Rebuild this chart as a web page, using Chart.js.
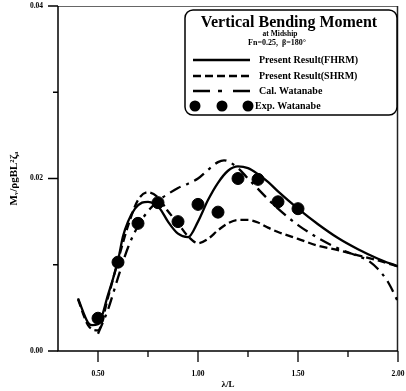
<!DOCTYPE html>
<html><head><meta charset="utf-8">
<script src="https://cdn.jsdelivr.net/npm/chart.js@4.4.0/dist/chart.umd.min.js"></script>
<style>html,body{margin:0;padding:0;background:#fff}canvas{display:block}</style>
</head><body>
<canvas id="c" width="406" height="391"></canvas>
<script>
// ---- data ----
const fhrmX = [0.40,0.45,0.47,0.50,0.55,0.60,0.625,0.65,0.685,0.72,0.75,0.78,0.81,0.85,0.90,0.95,1.00,1.05,1.10,1.15,1.20,1.25,1.30,1.35,1.40,1.50,1.60,1.70,1.80,1.90,2.00];
const fhrmY = [0.0061,0.0033,0.0030,0.0031,0.0065,0.0105,0.0133,0.0150,0.0165,0.0172,0.0173,0.0171,0.0165,0.0150,0.0136,0.0132,0.0150,0.0175,0.0195,0.0209,0.0214,0.0212,0.0205,0.0196,0.0185,0.0165,0.0147,0.0131,0.0118,0.0107,0.0098];

const shrmX = [0.40,0.45,0.50,0.55,0.60,0.65,0.70,0.75,0.80,0.85,0.90,0.95,1.00,1.05,1.10,1.15,1.20,1.25,1.30,1.35,1.40,1.50,1.60,1.70,1.80,1.90,2.00];
const shrmY = [0.0060,0.0030,0.0024,0.0062,0.0105,0.0145,0.0175,0.0184,0.0178,0.0162,0.0148,0.0133,0.0125,0.0130,0.0140,0.0148,0.0152,0.0152,0.0149,0.0143,0.0138,0.0130,0.0122,0.0117,0.0111,0.0105,0.0098];

const calX = [0.50,0.55,0.60,0.65,0.70,0.75,0.80,0.85,0.90,0.95,1.00,1.05,1.10,1.13,1.20,1.25,1.30,1.35,1.40,1.45,1.50,1.60,1.70,1.80,1.85,1.90,1.95,2.00];
const calY = [0.0020,0.0048,0.0085,0.0120,0.0145,0.0162,0.0174,0.0182,0.0189,0.0194,0.0200,0.0210,0.0219,0.0221,0.0212,0.0200,0.0188,0.0176,0.0165,0.0155,0.0146,0.0131,0.0119,0.0110,0.0105,0.0095,0.0080,0.0057];

const expX = [0.50,0.60,0.70,0.80,0.90,1.00,1.10,1.20,1.30,1.40,1.50];
const expY = [0.0038,0.0103,0.0148,0.0172,0.0150,0.0170,0.0161,0.0200,0.0199,0.0173,0.0165];

const xMajorTicks = [0.50,1.00,1.50,2.00];
const xMinorTicks = [0.75,1.25,1.75];
const yMajorTicks = [0.00,0.02,0.04];
const yMinorTicks = [0.01,0.03];

const legendTitle = 'Vertical Bending Moment';
const legendSub1 = 'at Midship';
const legendSub2 = 'Fn=0.25,  β=180°';
const seriesNames = ['Present Result(FHRM)','Present Result(SHRM)','Cal. Watanabe','Exp. Watanabe'];
const xTitle = 'λ/L';
const yTitle = 'Mᵥ/ρgBL²ζₐ';

// ---- helpers ----
const SERIF = '"Liberation Serif","DejaVu Serif",serif';
const pts = (xs, ys) => xs.map((x, i) => ({x: x, y: ys[i]}));
const DASH = [8,4];
const DASHDOT = [12,6,3,6];

const decor = {
  id: 'decor',
  beforeDatasetsDraw(chart) {
    const ctx = chart.ctx, a = chart.chartArea;
    const xs = chart.scales.x, ys = chart.scales.y;
    ctx.save();
    // frame
    ctx.strokeStyle = '#666'; ctx.lineWidth = 1;
    ctx.beginPath(); ctx.moveTo(a.left, a.top + 0.5); ctx.lineTo(a.right, a.top + 0.5); ctx.stroke();
    ctx.strokeStyle = '#222'; ctx.lineWidth = 1.5;
    ctx.beginPath(); ctx.moveTo(a.right - 0.5, a.top); ctx.lineTo(a.right - 0.5, a.bottom); ctx.stroke();
    ctx.strokeStyle = '#000'; ctx.lineWidth = 1.5;
    ctx.beginPath(); ctx.moveTo(a.left, a.top); ctx.lineTo(a.left, a.bottom); ctx.lineTo(a.right, a.bottom); ctx.stroke();
    // ticks
    ctx.lineWidth = 1.3;
    ctx.beginPath();
    xMajorTicks.forEach(v => { const p = xs.getPixelForValue(v); ctx.moveTo(p, a.bottom); ctx.lineTo(p, a.bottom + 11); });
    xMinorTicks.forEach(v => { const p = xs.getPixelForValue(v); ctx.moveTo(p, a.bottom); ctx.lineTo(p, a.bottom + 6); });
    yMajorTicks.forEach(v => { const p = ys.getPixelForValue(v); ctx.moveTo(a.left, p); ctx.lineTo(a.left - 10, p); });
    yMinorTicks.forEach(v => { const p = ys.getPixelForValue(v); ctx.moveTo(a.left, p); ctx.lineTo(a.left - 5, p); });
    ctx.stroke();
    ctx.restore();
  },
  afterDraw(chart) {
    const ctx = chart.ctx, a = chart.chartArea;
    ctx.save();
    ctx.fillStyle = '#000';
    // axis titles
    ctx.font = 'bold 9px ' + SERIF;
    ctx.textAlign = 'center'; ctx.textBaseline = 'middle';
    ctx.fillText(xTitle, (a.left + a.right) / 2, 385);
    ctx.save();
    ctx.translate(14, (a.top + a.bottom) / 2);
    ctx.rotate(-Math.PI / 2);
    ctx.font = 'bold 11px ' + SERIF;
    ctx.fillText(yTitle, 0, 0);
    ctx.restore();

    // legend box
    const L = 185, T = 10, R = 397, B = 115;
    ctx.beginPath();
    ctx.roundRect(L, T, R - L, B - T, 8);
    ctx.fillStyle = '#fff'; ctx.fill();
    ctx.strokeStyle = '#000'; ctx.lineWidth = 1.5; ctx.stroke();

    ctx.fillStyle = '#000';
    ctx.textAlign = 'center'; ctx.textBaseline = 'alphabetic';
    ctx.font = 'bold 14px ' + SERIF;
    let w = ctx.measureText(legendTitle).width;
    const fs = Math.min(16, 14 * 180 / w);
    ctx.font = 'bold ' + fs.toFixed(1) + 'px ' + SERIF;
    ctx.fillText(legendTitle, 289, 27);
    ctx.font = 'bold 7.5px ' + SERIF;
    ctx.fillText(legendSub1, 280, 36);
    ctx.font = 'bold 8px ' + SERIF;
    ctx.fillText(legendSub2, 277, 45);

    const rows = [60, 76, 91, 106];
    const dashes = [[], DASH, [17,8,4,11], null];
    ctx.textAlign = 'left'; ctx.textBaseline = 'middle';
    rows.forEach((y, i) => {
      ctx.strokeStyle = '#000'; ctx.lineWidth = 2.5;
      if (dashes[i]) {
        ctx.setLineDash(dashes[i]);
        ctx.beginPath(); ctx.moveTo(193, y); ctx.lineTo(250, y); ctx.stroke();
        ctx.setLineDash([]);
      } else {
        [195, 222, 248].forEach(cx => { ctx.beginPath(); ctx.arc(cx, y, 5.5, 0, Math.PI * 2); ctx.fill(); });
      }
      ctx.font = 'bold 10px ' + SERIF;
      ctx.fillText(seriesNames[i], i === 3 ? 255 : 259, y + 0.5);
    });
    ctx.restore();
  }
};

new Chart(document.getElementById('c'), {
  type: 'scatter',
  data: {
    datasets: [
      {label: seriesNames[0], data: pts(fhrmX, fhrmY), showLine: true, borderColor: '#000', borderWidth: 2.3, pointRadius: 0, cubicInterpolationMode: 'monotone'},
      {label: seriesNames[1], data: pts(shrmX, shrmY), showLine: true, borderColor: '#000', borderWidth: 2.3, borderDash: DASH, pointRadius: 0, cubicInterpolationMode: 'monotone'},
      {label: seriesNames[2], data: pts(calX, calY), showLine: true, borderColor: '#000', borderWidth: 2.3, borderDash: DASHDOT, pointRadius: 0, cubicInterpolationMode: 'monotone'},
      {label: seriesNames[3], data: pts(expX, expY), showLine: false, backgroundColor: '#000', borderColor: '#000', pointRadius: 6, pointStyle: 'circle'}
    ]
  },
  options: {
    responsive: false, animation: false, devicePixelRatio: 1,
    layout: {autoPadding: false, padding: {left: 0, right: 8, top: 6, bottom: 0}},
    plugins: {legend: {display: false}, tooltip: {enabled: false}, title: {display: false}},
    scales: {
      x: {
        type: 'linear', min: 0.3, max: 2.0,
        afterFit: s => { s.height = 40; s.paddingLeft = 0; s.paddingRight = 0; },
        afterBuildTicks: s => { s.ticks = xMajorTicks.map(v => ({value: v})); },
        grid: {display: true, drawOnChartArea: false, drawTicks: false},
        border: {display: false},
        ticks: {padding: 19, color: '#000', font: {family: SERIF, size: 7.5, weight: 'bold'}, maxRotation: 0, autoSkip: false, callback: v => Number(v).toFixed(2)}
      },
      y: {
        type: 'linear', min: 0, max: 0.04,
        afterFit: s => { s.width = 58; s.paddingTop = 0; s.paddingBottom = 0; },
        afterBuildTicks: s => { s.ticks = yMajorTicks.map(v => ({value: v})); },
        grid: {display: true, drawOnChartArea: false, drawTicks: false},
        border: {display: false},
        ticks: {padding: 15, color: '#000', font: {family: SERIF, size: 7.5, weight: 'bold'}, callback: v => Number(v).toFixed(2)}
      }
    }
  },
  plugins: [decor]
});
</script>
</body></html>
